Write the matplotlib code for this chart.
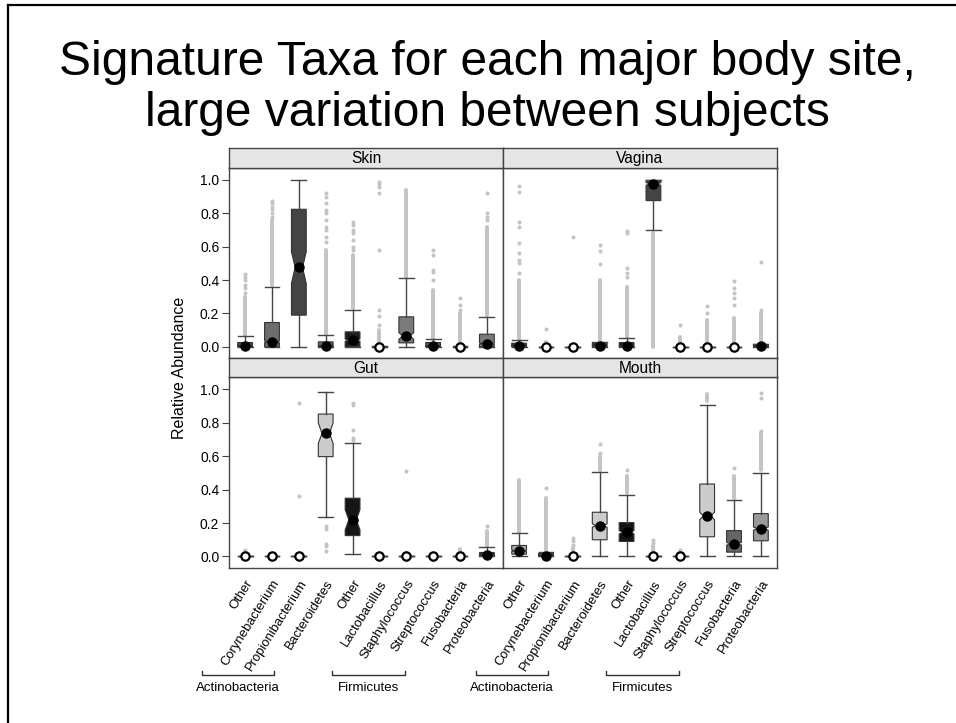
import numpy as np
import matplotlib.pyplot as plt
from matplotlib.lines import Line2D

plt.rcParams['font.family'] = ['Liberation Sans', 'DejaVu Sans']

taxa = ["Other", "Corynebacterium", "Propionibacterium", "Bacteroidetes", "Other",
        "Lactobacillus", "Staphylococcus", "Streptococcus", "Fusobacteria", "Proteobacteria"]
sites = ["Skin", "Vagina", "Gut", "Mouth"]

# box stats
skin_q1 = [0, 0, 0.19, 0, 0, 0, 0.024, 0, 0, 0]
skin_med = [0.005, 0.03, 0.476, 0.005, 0.04, 0, 0.066, 0.005, 0, 0.02]
skin_q3 = [0.026, 0.146, 0.824, 0.03, 0.09, 0.004, 0.18, 0.026, 0.004, 0.076]
skin_wlo = [0, 0, 0, 0, 0, 0, 0, 0, 0, 0]
skin_whi = [0.064, 0.36, 1.0, 0.07, 0.218, 0.006, 0.41, 0.046, 0.008, 0.18]
skin_cilo = [0.004, 0.025, 0.38, 0.004, 0.033, 0, 0.045, 0.004, 0, 0.016]
skin_cihi = [0.006, 0.035, 0.57, 0.006, 0.047, 0, 0.085, 0.006, 0, 0.024]

vagina_q1 = [0, 0, 0, 0, 0, 0.876, 0, 0, 0, 0]
vagina_med = [0.005, 0, 0, 0.004, 0.005, 0.976, 0, 0, 0, 0.005]
vagina_q3 = [0.022, 0, 0, 0.02, 0.026, 0.997, 0, 0, 0, 0.015]
vagina_wlo = [0, 0, 0, 0, 0, 0.70, 0, 0, 0, 0]
vagina_whi = [0.04, 0, 0, 0.03, 0.054, 1.0, 0, 0, 0, 0.02]
vagina_cilo = [0.004, 0, 0, 0.003, 0.004, 0.968, 0, 0, 0, 0.004]
vagina_cihi = [0.006, 0, 0, 0.005, 0.006, 0.984, 0, 0, 0, 0.006]

gut_q1 = [0, 0, 0, 0.598, 0.125, 0, 0, 0, 0, 0]
gut_med = [0, 0, 0, 0.737, 0.219, 0, 0, 0, 0, 0.01]
gut_q3 = [0, 0, 0, 0.853, 0.349, 0, 0, 0, 0, 0.024]
gut_wlo = [0, 0, 0, 0.239, 0.016, 0, 0, 0, 0, 0]
gut_whi = [0, 0, 0, 0.986, 0.677, 0, 0, 0, 0, 0.054]
gut_cilo = [0, 0, 0, 0.677, 0.16, 0, 0, 0, 0, 0.008]
gut_cihi = [0, 0, 0, 0.80, 0.28, 0, 0, 0, 0, 0.012]

mouth_q1 = [0.014, 0, 0, 0.10, 0.09, 0, 0, 0.118, 0.026, 0.094]
mouth_med = [0.034, 0.005, 0, 0.185, 0.145, 0, 0, 0.243, 0.076, 0.167]
mouth_q3 = [0.066, 0.02, 0, 0.265, 0.203, 0, 0, 0.434, 0.155, 0.257]
mouth_wlo = [0, 0, 0, 0, 0, 0, 0, 0, 0, 0]
mouth_whi = [0.139, 0.025, 0, 0.506, 0.368, 0, 0, 0.91, 0.34, 0.502]
mouth_cilo = [0.03, 0.004, 0, 0.175, 0.135, 0, 0, 0.22, 0.068, 0.157]
mouth_cihi = [0.038, 0.006, 0, 0.195, 0.155, 0, 0, 0.265, 0.084, 0.177]

# outliers: dense stacks (low, high) and single points
skin_runs = [(0.07, 0.30), (0.37, 0.76), None, (0.075, 0.58), (0.23, 0.55),
             (0.01, 0.10), (0.42, 0.94), (0.05, 0.34), (0.012, 0.20), (0.19, 0.72)]
skin_pts = [[0.32, 0.35, 0.37, 0.40, 0.416, 0.436],
            [0.78, 0.80, 0.824, 0.84, 0.86, 0.876],
            [],
            [0.63, 0.66, 0.70, 0.72, 0.76, 0.80, 0.82, 0.86, 0.90, 0.92],
            [0.58, 0.60, 0.64, 0.68, 0.70, 0.73, 0.745],
            [0.13, 0.185, 0.22, 0.58, 0.92, 0.96, 0.975, 0.99],
            [],
            [0.40, 0.45, 0.46, 0.55, 0.58],
            [0.22, 0.25, 0.29],
            [0.76, 0.78, 0.80, 0.92]]

vagina_runs = [(0.045, 0.40), (0.005, 0.03), None, (0.035, 0.40), (0.06, 0.36),
               (0.0, 0.68), (0.005, 0.06), (0.005, 0.16), (0.005, 0.17), (0.025, 0.20)]
vagina_pts = [[0.444, 0.50, 0.52, 0.56, 0.62, 0.72, 0.746, 0.93, 0.964],
              [0.11],
              [0.66],
              [0.494, 0.574, 0.61],
              [0.42, 0.44, 0.474, 0.68, 0.694],
              [],
              [0.134],
              [0.204, 0.244],
              [0.25, 0.29, 0.32, 0.35, 0.396],
              [0.22, 0.506]]

gut_runs = [(0.005, 0.03), None, None, None, None,
            None, (0.005, 0.02), None, (0.005, 0.045), (0.06, 0.15)]
gut_pts = [[0.04], [], [0.36, 0.92], [0.03, 0.06, 0.075, 0.165, 0.18],
           [0.70, 0.71, 0.755, 0.91, 0.92], [], [0.51], [], [], [0.18]]

mouth_runs = [(0.145, 0.46), (0.03, 0.35), (0.005, 0.05), (0.52, 0.60), (0.38, 0.48),
              (0.005, 0.06), (0.005, 0.03), (0.93, 0.97), (0.35, 0.48), (0.52, 0.74)]
mouth_pts = [[], [0.41], [0.07, 0.09, 0.11], [0.62, 0.675], [0.52],
             [0.08, 0.10], [0.04], [], [0.53], [0.753, 0.952, 0.976]]

groups = ["Actinobacteria", "Firmicutes"]

# fills
skin_col = ["#4d4d4d", "#6e6e6e", "#444444", "#666666", "#1e1e1e",
            "#555555", "#7a7a7a", "#555555", "#555555", "#7a7a7a"]
vagina_col = ["#333333", "#333333", "#333333", "#333333", "#222222",
              "#444444", "#333333", "#333333", "#333333", "#333333"]
gut_col = ["#333333", "#333333", "#333333", "#cccccc", "#151515",
           "#333333", "#333333", "#333333", "#333333", "#333333"]
mouth_col = ["#a8a8a8", "#444444", "#444444", "#cccccc", "#151515",
             "#444444", "#444444", "#cccccc", "#666666", "#999999"]

stats_by_site = {
    "Skin": (skin_q1, skin_med, skin_q3, skin_wlo, skin_whi, skin_cilo, skin_cihi, skin_runs, skin_pts, skin_col),
    "Vagina": (vagina_q1, vagina_med, vagina_q3, vagina_wlo, vagina_whi, vagina_cilo, vagina_cihi, vagina_runs, vagina_pts, vagina_col),
    "Gut": (gut_q1, gut_med, gut_q3, gut_wlo, gut_whi, gut_cilo, gut_cihi, gut_runs, gut_pts, gut_col),
    "Mouth": (mouth_q1, mouth_med, mouth_q3, mouth_wlo, mouth_whi, mouth_cilo, mouth_cihi, mouth_runs, mouth_pts, mouth_col),
}

W, H = 956, 723
fig = plt.figure(figsize=(W / 100, H / 100), dpi=100)

col_x = [229, 503]
col_w = 274
row_top = [167.7, 377.3]
row_h = 190.7
strip_h = 19.4
edge = "#444444"
flier_c = "#c4c4c4"

pos = np.arange(1, len(taxa) + 1)

for k, site in enumerate(sites):
    r, c = divmod(k, 2)
    q1, med, q3, wlo, whi, cilo, cihi, runs, pts, cols = stats_by_site[site]
    rect = [col_x[c] / W, 1 - (row_top[r] + row_h) / H, col_w / W, row_h / H]
    ax = fig.add_axes(rect)
    srect = [col_x[c] / W, 1 - row_top[r] / H, col_w / W, strip_h / H]
    sax = fig.add_axes(srect)
    sax.set_facecolor("#e5e5e5")
    sax.set_xticks([])
    sax.set_yticks([])
    for s in sax.spines.values():
        s.set_color(edge)
        s.set_linewidth(1)
    sax.text(0.5, 0.45, site, ha="center", va="center", fontsize=11.2, transform=sax.transAxes)

    # outliers
    for i in range(len(taxa)):
        if runs[i] is not None:
            ax.plot([pos[i], pos[i]], runs[i], color=flier_c, lw=2.9,
                    solid_capstyle="round", zorder=1)
        if pts[i]:
            ax.plot([pos[i]] * len(pts[i]), pts[i], "o", color=flier_c, ms=2.9,
                    mec="none", zorder=1)

    bstats = []
    for i in range(len(taxa)):
        bstats.append(dict(med=med[i], q1=q1[i], q3=q3[i], whislo=wlo[i], whishi=whi[i],
                           cilo=cilo[i], cihi=cihi[i], fliers=[]))
    bp = ax.bxp(bstats, positions=pos, widths=0.55, capwidths=0.55, shownotches=True,
                patch_artist=True, showfliers=False, manage_ticks=False,
                boxprops=dict(edgecolor="#333333", linewidth=0.8),
                whiskerprops=dict(color=edge, linewidth=1),
                capprops=dict(color=edge, linewidth=1),
                medianprops=dict(color="#222222", linewidth=1), zorder=2)
    for patch, fc in zip(bp["boxes"], cols):
        patch.set_facecolor(fc)

    for i in range(len(taxa)):
        if q3[i] <= 0.005:
            ax.plot(pos[i], med[i], "o", ms=6, mfc="white", mec="black", mew=1.6, zorder=3)
        else:
            ax.plot(pos[i], med[i], "o", ms=6.5, color="black", zorder=3)

    ax.set_xlim(0.4, 10.6)
    ax.set_ylim(-0.069, 1.073)
    for s in ax.spines.values():
        s.set_color(edge)
        s.set_linewidth(1)
    if c == 0:
        ax.set_yticks([0, 0.2, 0.4, 0.6, 0.8, 1.0])
        ax.set_yticklabels(["0.0", "0.2", "0.4", "0.6", "0.8", "1.0"])
        ax.tick_params(axis="y", length=5, color=edge, labelsize=10, pad=2)
    else:
        ax.set_yticks([])
    if r == 1:
        ax.set_xticks(pos)
        ax.set_xticklabels(taxa, rotation=58, ha="right", va="top",
                           rotation_mode="anchor", fontsize=9.4)
        ax.tick_params(axis="x", length=0, pad=7)
        tr = ax.get_xaxis_transform()
        for name, (x0, x1) in zip(groups, [(-0.62, 2.07), (4.25, 6.94)]):
            ax.plot([x0, x0, x1, x1], [-0.540, -0.561, -0.561, -0.540], color="#333333",
                    lw=1, transform=tr, clip_on=False)
            ax.text((x0 + x1) / 2, -0.629, name, ha="center", va="center",
                    fontsize=9.5, transform=tr)
    else:
        ax.set_xticks([])

fig.text(180 / W, 1 - 368 / H, "Relative Abundance", rotation=90, ha="center",
         va="center", fontsize=11.5)

fig.text(0.51, 1 - 75 / H, "Signature Taxa for each major body site,", ha="center",
         va="baseline", fontsize=34.5)
fig.text(0.51, 1 - 126 / H, "large variation between subjects", ha="center",
         va="baseline", fontsize=34.5)

# slide frame
fig.add_artist(Line2D([7.5 / W, 7.5 / W], [0, 1 - 5 / H], color="black", lw=1.6,
                      transform=fig.transFigure))
fig.add_artist(Line2D([7.5 / W, 1], [1 - 5 / H, 1 - 5 / H], color="black", lw=1.6,
                      transform=fig.transFigure))

fig.savefig("out.png", dpi=100)
